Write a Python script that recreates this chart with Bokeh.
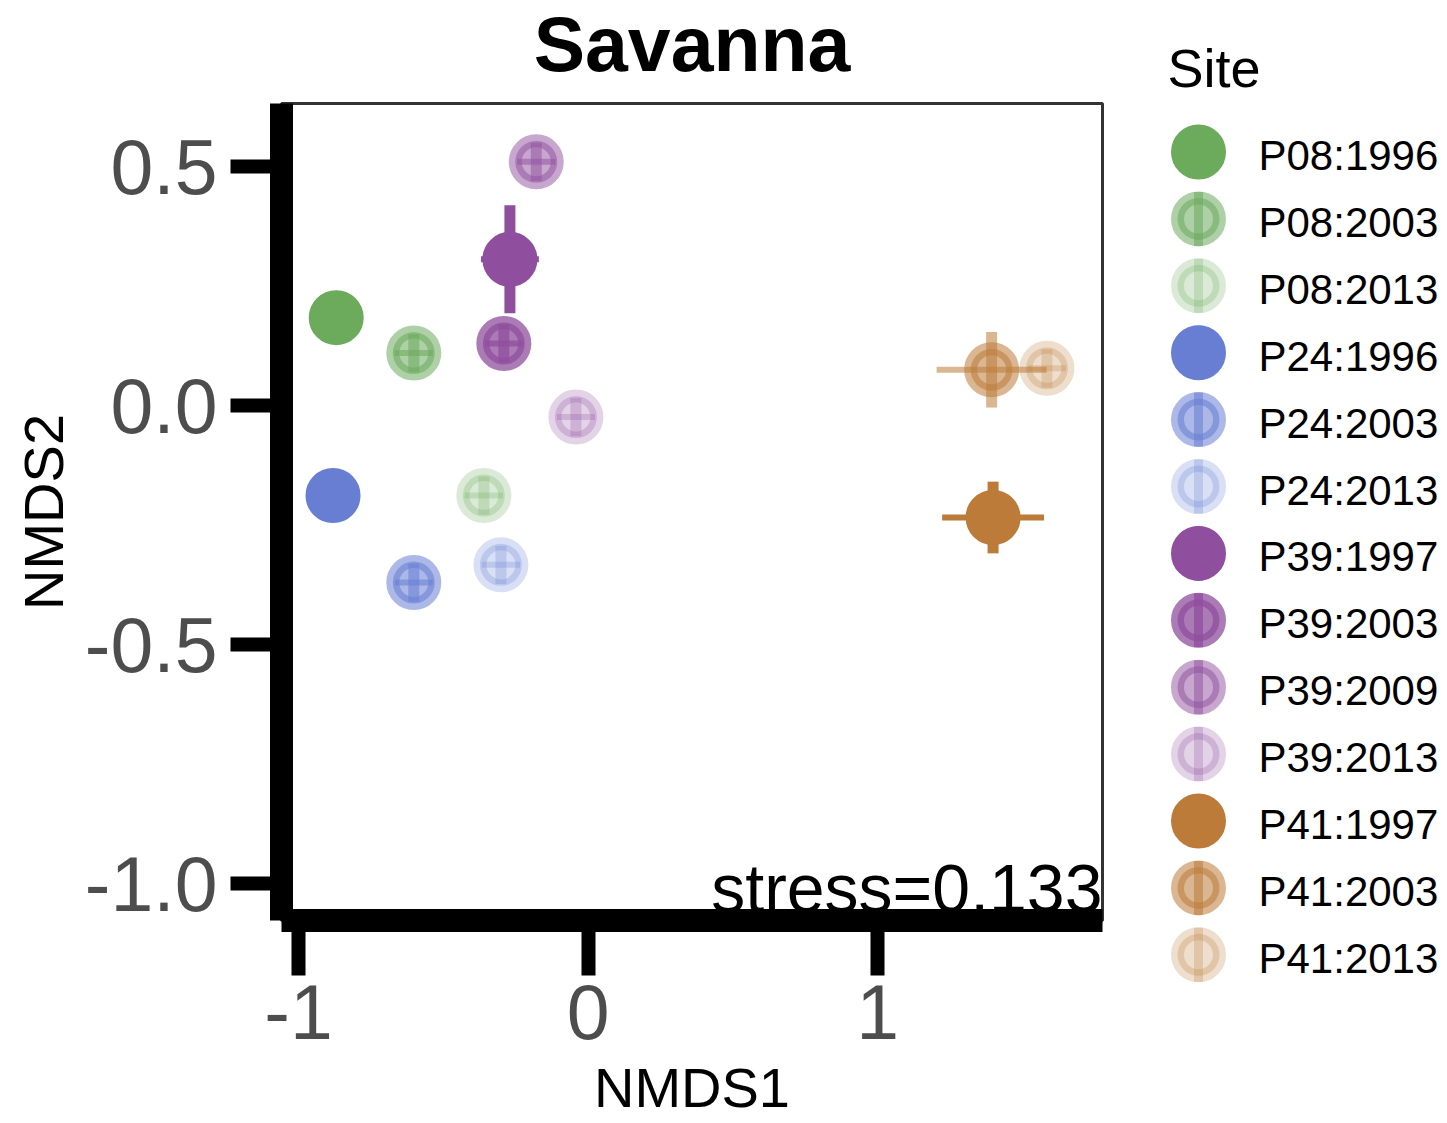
from bokeh.plotting import figure
from bokeh.models import ColumnDataSource, Range1d, FixedTicker, PrintfTickFormatter
from bokeh.layouts import row, column
from bokeh.core.properties import value
from bokeh.embed import file_html
from bokeh.resources import INLINE

# ---- NMDS site scores (centroid and standard error per site/survey) ----
sites = ["P08", "P08", "P08", "P24", "P24", "P24", "P39", "P39", "P39", "P39", "P41", "P41", "P41"]
years = [1996, 2003, 2013, 1996, 2003, 2013, 1997, 2003, 2009, 2013, 1997, 2003, 2013]
nmds1 = [-0.870, -0.602, -0.360, -0.881, -0.602, -0.301, -0.270, -0.291, -0.179, -0.042, 1.399, 1.394, 1.585]
nmds2 = [0.184, 0.110, -0.188, -0.188, -0.370, -0.333, 0.306, 0.130, 0.510, -0.024, -0.234, 0.075, 0.078]
nmds1_se = [0.066, 0.066, 0.066, 0.066, 0.066, 0.066, 0.100, 0.066, 0.066, 0.066, 0.176, 0.190, 0.066]
nmds2_se = [0.040, 0.040, 0.040, 0.040, 0.040, 0.040, 0.113, 0.040, 0.040, 0.040, 0.075, 0.079, 0.040]
stress = 0.133

x_ticks = [-1, 0, 1]
y_ticks = [-1.0, -0.5, 0.0, 0.5]

# ---- styling ----
FONT = "Liberation Sans"
SITE_COLORS = {"P08": "#6caa5c", "P24": "#687ed3", "P39": "#8f4f9e", "P41": "#bc7b38"}
# opacity by survey order within a site (first survey opaque, later ones fading)
SURVEY_ALPHA = {3: [1.0, 0.55, 0.25], 4: [1.0, 0.75, 0.5, 0.25]}

colors, alphas = [], []
for i, s in enumerate(sites):
    n = sites.count(s)
    rank = sites[:i].count(s)
    colors.append(SITE_COLORS[s])
    alphas.append(SURVEY_ALPHA[n][rank])

labels = [f"{s}:{y}" for s, y in zip(sites, years)]

src = ColumnDataSource(dict(
    x=nmds1, y=nmds2,
    x0=[x - e for x, e in zip(nmds1, nmds1_se)], x1=[x + e for x, e in zip(nmds1, nmds1_se)],
    y0=[y - e for y, e in zip(nmds2, nmds2_se)], y1=[y + e for y, e in zip(nmds2, nmds2_se)],
    color=colors, alpha=alphas, label=labels,
))

# ---- page geometry ----
PAGE_W, PAGE_H = 1447, 1123
W_MAIN = 1140
HEAD_H = 93
FRAME_LEFT, FRAME_RIGHT = 281, 1102

# ---- title strip ----
head = figure(width=W_MAIN, height=HEAD_H, x_range=Range1d(0, W_MAIN), y_range=Range1d(HEAD_H, 0),
              output_backend="svg", toolbar_location=None, min_border=0,
              x_axis_type=None, y_axis_type=None)
head.frame_align = False
head.outline_line_color = None
head.background_fill_color = "white"
head.border_fill_color = "white"
head.text(x=[(FRAME_LEFT + FRAME_RIGHT) / 2], y=[86], text=["Savanna"],
          text_font=value(FONT), text_font_size="77px", text_font_style="bold",
          text_color="black", text_align="center", text_baseline="bottom")

# ---- main ordination panel ----
p = figure(width=W_MAIN, height=PAGE_H - HEAD_H,
           x_range=Range1d(-1.059, 1.777), y_range=Range1d(-1.077, 0.632),
           output_backend="svg", toolbar_location=None,
           min_border_left=FRAME_LEFT, min_border_right=W_MAIN - FRAME_RIGHT,
           min_border_top=10, min_border_bottom=203)
p.frame_align = False
p.grid.visible = False
p.background_fill_color = "white"
p.border_fill_color = "white"
p.outline_line_color = "#333333"
p.outline_line_width = 3

# error bars
p.segment(x0="x0", y0="y", x1="x1", y1="y", source=src, line_color="color", line_alpha="alpha",
          line_width=6, line_cap="butt")
p.segment(x0="x", y0="y0", x1="x", y1="y1", source=src, line_color="color", line_alpha="alpha",
          line_width=11, line_cap="butt")
# centroids
p.scatter(x="x", y="y", source=src, marker="circle", size=42,
          fill_color="color", fill_alpha="alpha", line_color="color", line_alpha="alpha", line_width=13)

# stress annotation in the lower-right corner
p.text(x=[p.x_range.end], y=[p.y_range.start], text=[f"stress={stress}"],
       text_font=value(FONT), text_font_size="68px", text_color="black",
       text_align="right", text_baseline="bottom", y_offset=5)

for ax in (p.xaxis[0], p.yaxis[0]):
    ax.axis_line_width = 23
    ax.axis_line_color = "black"
    ax.axis_line_cap = "butt"
    ax.major_tick_line_width = 14
    ax.major_tick_line_color = "black"
    ax.major_tick_line_cap = "butt"
    ax.major_tick_in = 0
    ax.minor_tick_line_color = None
    ax.major_label_text_font = FONT
    ax.major_label_text_font_size = "77px"
    ax.major_label_text_color = "#4d4d4d"
    ax.axis_label_text_font = FONT
    ax.axis_label_text_font_style = "normal"
    ax.axis_label_text_font_size = "56px"
    ax.axis_label_text_color = "black"

p.xaxis.axis_label = "NMDS1"
p.yaxis.axis_label = "NMDS2"
p.xaxis.ticker = FixedTicker(ticks=x_ticks)
p.yaxis.ticker = FixedTicker(ticks=y_ticks)
p.xaxis.formatter = PrintfTickFormatter(format="%d")
p.yaxis.formatter = PrintfTickFormatter(format="%.1f")
p.xaxis.major_tick_out = 55
p.yaxis.major_tick_out = 51
p.xaxis.major_label_standoff = 9
p.yaxis.major_label_standoff = 13
p.xaxis.axis_label_standoff = 14
p.yaxis.axis_label_standoff = 7

# ---- legend panel ----
W_LEG = PAGE_W - W_MAIN
leg = figure(width=W_LEG, height=PAGE_H, x_range=Range1d(0, W_LEG), y_range=Range1d(PAGE_H, 0),
             output_backend="svg", toolbar_location=None, min_border=0,
             x_axis_type=None, y_axis_type=None)
leg.frame_align = False
leg.outline_line_color = None
leg.background_fill_color = "white"
leg.border_fill_color = "white"

ROW0, STEP, KEY_X, LABEL_X = 151.5, 66.9, 58, 118
rows = [ROW0 + i * STEP for i in range(len(labels))]
leg_src = ColumnDataSource(dict(
    kx=[KEY_X] * len(labels), ky=rows,
    ky0=[r - 27 for r in rows], ky1=[r + 27 for r in rows],
    lx=[LABEL_X] * len(labels), ly=[r + 3.5 for r in rows],
    color=colors, alpha=alphas, label=labels,
))
leg.segment(x0="kx", y0="ky0", x1="kx", y1="ky1", source=leg_src, line_color="color",
            line_alpha="alpha", line_width=9, line_cap="butt")
leg.scatter(x="kx", y="ky", source=leg_src, marker="circle", size=42,
            fill_color="color", fill_alpha="alpha", line_color="color", line_alpha="alpha", line_width=13)
leg.text(x="lx", y="ly", text="label", source=leg_src, text_font=value(FONT), text_font_size="42px",
         text_color="black", text_align="left", text_baseline="middle")
leg.text(x=[27], y=[67], text=["Site"], text_font=value(FONT), text_font_size="54px",
         text_color="black", text_align="left", text_baseline="middle")

layout = row(column(head, p), leg)
open("out.html", "w").write(file_html(layout, INLINE))
